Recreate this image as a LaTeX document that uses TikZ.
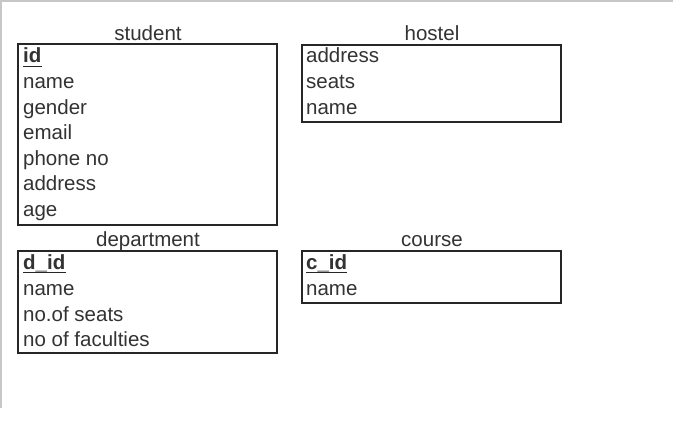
\documentclass[tikz,border=0pt]{standalone}
\usepackage{fontspec}
\setmainfont{Liberation Sans}
\begin{document}
\begin{tikzpicture}[x=1pt,y=-1pt,
  tbl/.style={draw=black!85,line width=1.4pt,fill=white},
  fld/.style={anchor=base west,inner sep=0pt,text=black!80,font=\fontsize{20.5}{24}\selectfont},
  key/.style={fld,font=\fontsize{20.5}{24}\selectfont\bfseries},
  ttl/.style={anchor=base,inner sep=0pt,text=black!80,font=\fontsize{20.5}{24}\selectfont},
  ul/.style={draw=black!85,line width=1.3pt},
  frame/.style={draw=black!22,line width=1.2pt}]
\useasboundingbox (0,0) rectangle (673,423);
\fill[white] (0,0) rectangle (673,423);
\draw[frame] (0,1) -- (673,1);
\draw[frame] (1,0) -- (1,408);

% student
\draw[tbl] (18,44) rectangle (277,225);
\node[ttl] (tstudent) at (148,40.5) {student};
\node[key] (sid) at (23,63) {id};
\draw[ul] ([yshift=-3.5pt]sid.base west) -- ([yshift=-3.5pt]sid.base east);
\node[fld] (sname) at (23,88.5) {name};
\node[fld] (sgender) at (23,114) {gender};
\node[fld] (semail) at (23,139.5) {email};
\node[fld] (sphone) at (23,165) {phone no};
\node[fld] (saddr) at (23,190.5) {address};
\node[fld] (sage) at (23,216) {age};

% hostel
\draw[tbl] (302,45) rectangle (561,122);
\node[ttl] (thostel) at (432,40.5) {hostel};
\node[fld] (haddr) at (306,63) {address};
\node[fld] (hseats) at (306,88.5) {seats};
\node[fld] (hname) at (306,114) {name};

% department
\draw[tbl] (18,251) rectangle (277,353);
\node[ttl] (tdept) at (148,246) {department};
\node[key] (did) at (23,269.5) {d\_id};
\draw[ul] ([yshift=-3pt]did.base west) -- ([yshift=-3pt]did.base east);
\node[fld] (dname) at (23,295.5) {name};
\node[fld] (dseats) at (23,321) {no.of seats};
\node[fld] (dfac) at (23,346.5) {no of faculties};

% course
\draw[tbl] (302,251) rectangle (561,303);
\node[ttl] (tcourse) at (432,246.5) {course};
\node[key] (cid) at (306,269.5) {c\_id};
\draw[ul] ([yshift=-3pt]cid.base west) -- ([yshift=-3pt]cid.base east);
\node[fld] (cname) at (306,295.5) {name};
\end{tikzpicture}
\end{document}
